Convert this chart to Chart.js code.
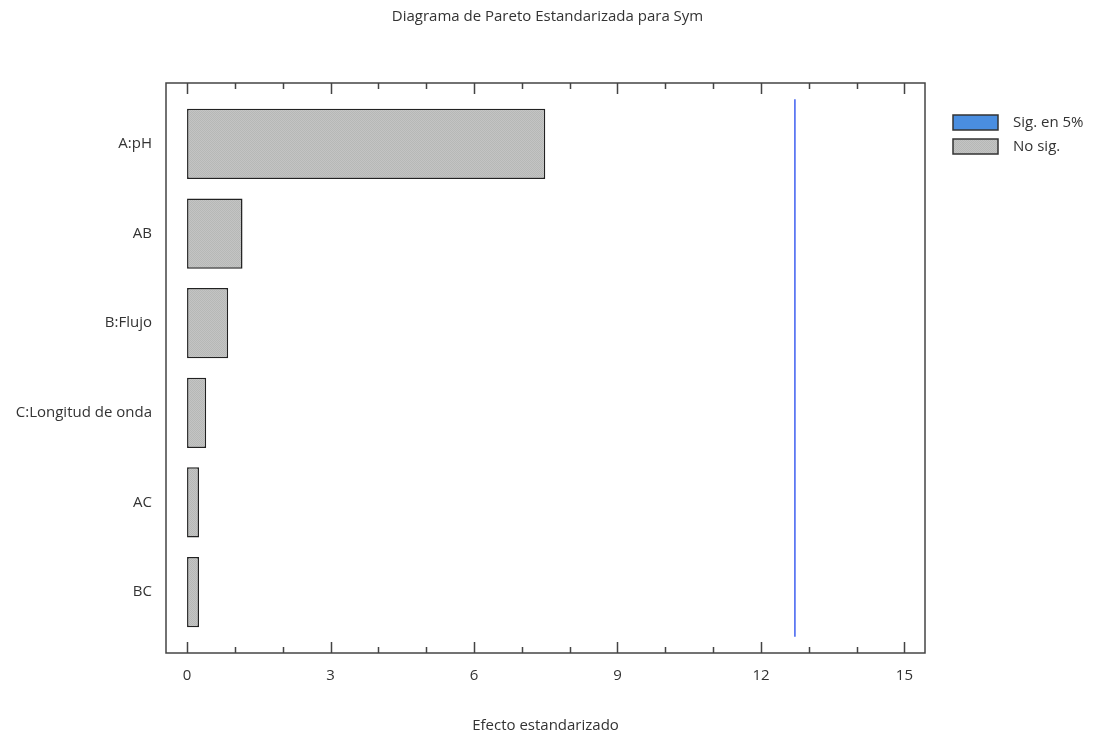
<!DOCTYPE html>
<html>
<head>
<meta charset="utf-8">
<script src="https://cdn.jsdelivr.net/npm/chart.js@4.4.0/dist/chart.umd.min.js"></script>
<style>
  html, body { margin: 0; padding: 0; background: #fff; }
  #wrap { width: 1095px; height: 735px; }
</style>
</head>
<body>
<div id="wrap"><canvas id="grafico"></canvas></div>
<script>
// datos
const factores = ['A:pH', 'AB', 'B:Flujo', 'C:Longitud de onda', 'AC', 'BC'];
const efectos = [7.49, 1.16, 0.86, 0.40, 0.25, 0.25];
const valorCritico = 12.71;
const ticksX = [0, 3, 6, 9, 12, 15];
const leyenda = ['Sig. en 5%', 'No sig.'];

const fuente = '"Open Sans", "DejaVu Sans", sans-serif';
const colorTexto = '#333';

// relleno gris punteado de las barras
function patronGris() {
    const c = document.createElement('canvas');
    c.width = 2; c.height = 2;
    const g = c.getContext('2d');
    g.fillStyle = '#c4c4c4'; g.fillRect(0, 0, 2, 2);
    g.fillStyle = '#b6b8b6'; g.fillRect(0, 0, 1, 1); g.fillRect(1, 1, 1, 1);
    return g.createPattern(c, 'repeat');
}
const gris = patronGris();

// marco, marcas hacia dentro y leyenda
const marco = {
    id: 'marco',
    afterDraw(chart) {
        const {ctx, chartArea: a, scales: {x}} = chart;
        ctx.save();
        ctx.strokeStyle = '#444';
        ctx.lineWidth = 1.5;
        ctx.strokeRect(a.left, a.top, a.right - a.left, a.bottom - a.top);
        for (let v = ticksX[0]; v <= ticksX[ticksX.length - 1]; v++) {
            const px = Math.round(x.getPixelForValue(v)) + 0.5;
            const len = v % 3 === 0 ? 11 : 6;
            ctx.beginPath();
            ctx.moveTo(px, a.top); ctx.lineTo(px, a.top + len);
            ctx.moveTo(px, a.bottom); ctx.lineTo(px, a.bottom - len);
            ctx.stroke();
        }
        // leyenda
        const rellenos = ['#4a8ee0', gris];
        const bx = a.right + 28;
        ctx.font = '15px ' + fuente;
        ctx.textBaseline = 'middle';
        leyenda.forEach((t, i) => {
            const by = a.top + 32 + i * 24;
            ctx.fillStyle = rellenos[i];
            ctx.fillRect(bx, by, 45, 15);
            ctx.strokeStyle = '#333';
            ctx.lineWidth = 1.5;
            ctx.strokeRect(bx, by, 45, 15);
            ctx.fillStyle = colorTexto;
            ctx.fillText(t, bx + 60, by + 8);
        });
        ctx.restore();
    }
};

const ctxPareto = document.getElementById('grafico').getContext('2d');
const graficoPareto = new Chart(ctxPareto, {
    type: 'bar',
    data: {
        datasets: [{
            label: 'No sig.',
            data: efectos.map((v, i) => ({x: v, y: i})),
            backgroundColor: gris,
            borderColor: '#222',
            borderWidth: 1.5,
            borderSkipped: false,
            barPercentage: 1,
            categoryPercentage: 0.785
        }, {
            type: 'line',
            label: 'Sig. en 5%',
            data: [{x: valorCritico, y: -0.5}, {x: valorCritico, y: factores.length - 0.5}],
            borderColor: '#3f5ff0',
            borderWidth: 1.5,
            pointRadius: 0,
            fill: false
        }]
    },
    options: {
        indexAxis: 'y',
        responsive: true,
        maintainAspectRatio: false,
        animation: false,
        layout: { padding: { left: 0, right: 0, top: 0, bottom: 0 } },
        plugins: {
            legend: { display: false },
            tooltip: { enabled: false },
            title: {
                display: true,
                text: 'Diagrama de Pareto Estandarizada para Sym',
                color: colorTexto,
                font: { family: fuente, size: 15, weight: 'normal' },
                padding: { top: 8, bottom: 57 }
            }
        },
        scales: {
            x: {
                type: 'linear',
                min: -0.44,
                max: 15.43,
                afterBuildTicks: s => { s.ticks = ticksX.map(v => ({value: v})); },
                grid: { display: false, drawTicks: false },
                border: { display: false },
                ticks: { color: colorTexto, padding: 14, font: { family: fuente, size: 15 } },
                title: {
                    display: true,
                    text: 'Efecto estandarizado',
                    color: colorTexto,
                    font: { family: fuente, size: 15 },
                    padding: { top: 18, bottom: 0 }
                }
            },
            y: {
                type: 'linear',
                reverse: true,
                offset: false,
                min: -0.68,
                max: factores.length - 1 + 0.68,
                afterBuildTicks: s => { s.ticks = factores.map((f, i) => ({value: i})); },
                afterFit: s => { s.width = 166; },
                grid: { display: false, drawTicks: false },
                border: { display: false },
                ticks: {
                    color: colorTexto,
                    padding: 14,
                    font: { family: fuente, size: 15 },
                    callback: v => factores[v]
                }
            },
            // espacio para la leyenda a la derecha
            derecha: {
                type: 'linear',
                axis: 'y',
                position: 'right',
                afterFit: s => { s.width = 170; },
                grid: { display: false, drawTicks: false },
                border: { display: false },
                ticks: { display: false }
            }
        }
    },
    plugins: [marco]
});
</script>
</body>
</html>
